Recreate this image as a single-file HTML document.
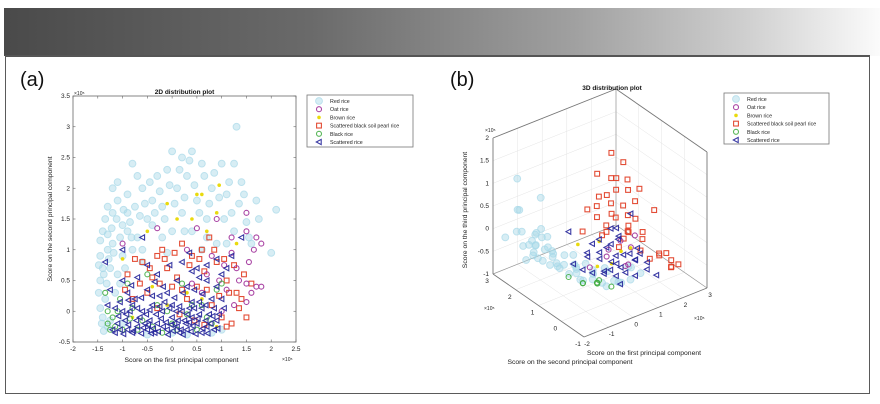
<!DOCTYPE html>
<html><head><meta charset="utf-8">
<style>
html,body{margin:0;padding:0;background:#fff;}
body{width:880px;height:404px;position:relative;overflow:hidden;font-family:"Liberation Sans",sans-serif;}
#hdr{position:absolute;left:4px;top:8px;width:876px;height:48px;background:linear-gradient(90deg,#4a4a4a 0%,#6a6a6a 35%,#a0a0a0 65%,#d0d0d0 85%,#fbfbfb 100%);}
#panel{position:absolute;left:5px;top:55px;width:865px;height:339px;border:1.5px solid #5a5a5a;border-top:2px solid #555;box-sizing:border-box;}
svg{position:absolute;left:0;top:0;}
</style></head><body>
<div id="hdr"></div>
<div id="panel"></div>
<svg id="chart" width="880" height="404" font-family="Liberation Sans, sans-serif"></svg>
<script>
// ---------- 2D data (units of 1e5) ----------
const cyan2 = [-1.4,1.3,-1.3,1.0,-1.45,0.5,-1.35,0.2,-1.2,1.6,-1.1,1.8,-0.9,1.9,-0.8,2.4,-0.6,2.0,-0.5,1.5,-0.3,2.2,-0.1,2.3,0.0,2.6,0.2,2.5,0.4,2.6,0.6,2.4,0.8,2.0,1.0,2.4,1.3,3.0,1.4,2.1,1.7,1.8,2.1,1.65,2.0,0.95,1.5,1.45,1.2,1.6,0.9,1.1,0.5,1.8,0.2,1.6,-0.2,1.2,-0.7,1.2,-1.0,1.4,-1.25,0.7,-1.4,-0.1,-1.3,-0.25,-1.0,0.9,-0.6,0.8,-1.15,0.3,-1.45,0.9,-0.4,1.8,0.1,2.0,0.7,1.5,-0.9,1.6,-1.2,2.0,-0.2,1.7,0.3,2.2,1.1,1.9,-1.35,1.5,-0.8,1.0,0.6,1.0,1.6,1.1,-1.45,1.15,-1.4,0.7,-1.3,1.25,-1.2,1.1,-1.45,0.05,-1.1,0.6,-0.9,1.3,-0.4,1.4,0.0,1.3,0.4,1.3,
 -1.48,0.3,-1.42,-0.2,-1.38,0.6,-1.32,0.45,-1.28,0.85,-1.22,1.35,-1.18,0.95,-1.12,1.5,-1.05,1.2,-0.98,1.65,-0.85,1.45,-0.75,1.7,-0.65,1.55,-0.55,1.75,-0.45,2.1,-0.35,1.6,-0.25,1.95,-0.15,1.5,-0.05,2.05,0.05,1.75,0.15,2.3,0.25,1.85,0.35,2.45,0.45,2.05,0.55,1.6,0.65,2.2,0.75,1.75,0.85,2.25,0.95,1.85,1.05,1.5,1.15,2.1,1.25,1.3,1.35,1.75,1.45,1.9,1.55,1.2,1.75,1.5,1.25,2.4,-1.38,-0.32,-1.25,-0.15,-1.48,0.75,-1.3,1.7,-1.1,2.1,-0.7,2.2,-0.95,0.7,-0.82,1.2,-1.05,0.45,-0.6,1.0,-0.1,0.95,0.25,1.3,0.7,1.2,1.1,1.1,0.0,-0.35,0.3,-0.38,-0.5,-0.38,0.8,-0.35,-1.0,-0.2,1.0,-0.3];
const blue2 = [-1.1,-0.2,-0.9,-0.3,-0.7,-0.25,-0.5,-0.3,-0.3,-0.2,-0.1,-0.3,0.1,-0.25,0.3,-0.3,0.5,-0.2,0.7,-0.25,0.9,-0.15,-1.0,0.0,-0.8,0.1,-0.6,0.0,-0.4,0.1,-0.2,0.0,0.0,0.1,0.2,0.0,0.4,0.15,0.6,0.05,0.8,0.2,-0.9,0.3,-0.5,0.35,-0.1,0.3,0.3,0.4,0.7,0.5,1.0,0.6,-1.3,0.1,-1.35,0.8,-1.0,1.0,-0.6,1.2,0.2,0.8,0.5,0.7,1.2,0.9,1.4,1.2,0.9,0.85,-0.3,0.6,-0.7,0.55,0.0,-0.1,-0.45,-0.15,0.15,-0.35,0.6,-0.35,-0.8,-0.35,0.4,-0.1,-0.25,0.25,-1.2,-0.3,1.0,0.2,0.85,-0.3,-0.95,-0.15,-0.65,-0.1,-0.35,-0.35,0.05,-0.2,0.25,-0.15,0.55,-0.05,-0.75,0.2,-0.15,0.15,0.35,0.05,-1.05,0.15,0.75,-0.05,-0.55,-0.2,
 -1.15,-0.35,-1.05,-0.3,-0.98,-0.37,-0.88,-0.22,-0.78,-0.32,-0.72,-0.15,-0.62,-0.36,-0.58,-0.27,-0.48,-0.22,-0.42,-0.36,-0.38,-0.28,-0.28,-0.33,-0.22,-0.12,-0.18,-0.25,-0.08,-0.38,-0.02,-0.22,0.02,-0.32,0.12,-0.15,0.18,-0.3,0.22,-0.38,0.28,-0.2,0.38,-0.33,0.42,-0.24,0.48,-0.37,0.52,-0.12,0.62,-0.28,0.68,-0.15,0.72,-0.36,0.78,-0.2,0.82,-0.08,0.92,-0.28,0.95,-0.05,-1.08,-0.08,-0.92,-0.05,-0.85,0.0,-0.7,0.05,-0.52,-0.05,-0.45,0.02,-0.32,-0.05,-0.25,0.08,-0.05,0.05,0.08,0.0,0.15,0.08,0.32,-0.05,0.45,0.05,0.55,0.15,0.68,0.1,0.85,0.05,-1.15,0.05,-0.88,0.18,-0.62,0.22,-0.4,0.25,-0.18,0.4,0.05,0.22,0.22,0.3,0.45,0.35,0.62,0.28,0.9,0.4,-1.0,0.5,-0.82,0.42,-0.35,0.48,0.1,0.5,0.55,0.55,0.4,0.65,-0.05,0.75,0.7,0.75,1.1,0.7,0.35,0.95,-0.5,0.75,-1.25,0.35,1.05,0.05,-0.12,-0.18,0.35,-0.18];
const red2 = [-0.9,0.6,-0.6,0.8,-0.3,0.9,-0.1,0.7,0.2,1.1,0.4,0.9,0.6,1.0,0.75,1.2,0.9,0.8,1.1,0.5,1.3,0.3,1.5,-0.1,1.6,0.45,1.4,0.2,0.5,0.4,0.0,0.4,-0.5,0.3,-0.8,0.2,0.3,0.2,0.8,0.1,1.2,-0.2,1.0,-0.1,-0.2,1.0,0.1,0.55,-0.4,0.55,0.65,0.65,1.25,0.75,
 -0.75,0.85,-0.45,0.7,-0.15,0.85,0.05,0.95,0.35,0.75,0.55,0.85,0.85,1.0,1.05,0.85,1.15,0.3,1.35,0.05,1.45,0.6,-0.65,0.45,-0.25,0.45,0.2,0.35,0.7,0.35,0.95,0.25,-0.95,0.35,0.45,-0.15,0.15,-0.05,-0.3,0.05,1.1,-0.25,0.65,-0.22];
const purple2 = [0.5,1.35,0.9,1.5,1.2,1.2,1.5,1.6,1.5,1.3,1.7,1.2,1.8,1.1,1.65,1.0,1.5,0.45,1.7,0.4,1.8,0.4,1.6,0.3,1.5,0.15,1.3,0.7,1.1,0.35,0.8,0.9,-0.3,1.35,0.3,1.0,-1.0,1.1,0.6,0.3,1.0,0.0,1.35,0.5,1.55,0.8,1.2,0.95,1.05,0.75,0.7,0.6,0.4,0.45,0.95,0.5,1.25,0.1];
const yellow2 = [-0.1,1.75,0.5,1.9,0.6,1.9,0.95,2.05,0.9,1.6,0.4,1.5,0.1,1.5,-0.5,1.3,-1.0,0.85,1.3,1.1,0.7,1.3,-0.4,0.4,0.3,0.3,-0.8,-0.1,0.6,0.2,-0.1,0.1,0.9,-0.25];
const green2 = [-1.3,-0.2,-1.2,-0.1,-1.1,0.0,-1.0,-0.3,-0.8,0.05,-0.6,-0.15,-0.3,0.1,0.0,-0.2,0.3,-0.05,0.6,0.1,0.9,0.35,-0.9,0.45,-0.5,0.6,0.2,0.45,-1.35,0.3,-0.2,-0.35,0.5,-0.3,1.0,0.45,-1.25,-0.3,0.7,-0.1,-1.15,-0.25,-1.05,0.2,-0.7,-0.3,-0.4,-0.25,-0.1,0.0,0.1,-0.3,0.4,0.1,0.8,-0.2,-1.3,0.0,-0.85,-0.12];
const xTicks2 = [-2,-1.5,-1,-0.5,0,0.5,1,1.5,2,2.5];
const yTicks2 = [-0.5,0,0.5,1,1.5,2,2.5,3,3.5];
// ---------- 3D data (x1, x2, x3) ----------
const cyan3 = [-1.5,2.5,0,-1.2,2.0,-0.2,-1.0,2.5,-0.4,-0.8,1.5,-0.5,-0.5,2.0,-0.6,-1.4,1.5,0.2,-1.0,3.0,0.2,-0.3,1.0,-0.8,0,1.5,-0.8,0.3,0.5,-0.9,0.6,0.3,-0.8,1.0,0.2,-0.8,-1.2,2.8,1.0,-0.8,2.2,0.7,-1.5,3.0,-0.3,-0.6,2.8,-0.5,-0.2,2.3,-0.7,0.2,1.8,-0.85,1.3,0.5,-0.7,0.8,1.0,-0.85,-1.3,2.3,-0.6,-0.9,1.8,0.0,-1.7,2.0,-0.1,-0.4,1.2,-0.3,-1.1,2.0,-0.5,-0.7,2.5,-0.2,-0.3,1.7,-0.5,0.1,1.2,-0.6,-1.3,2.6,0.4,
 -1.0,2.2,-0.3,-0.9,2.0,-0.6,-0.7,1.9,-0.7,-0.6,2.1,-0.4,-0.4,1.8,-0.8,-0.2,1.6,-0.9,0.0,1.2,-0.95,0.2,1.0,-0.9,0.4,0.8,-0.95,0.7,0.6,-0.9,0.9,0.5,-0.95,-1.2,2.1,-0.45,-1.1,1.7,-0.2,-0.8,1.7,-0.3,-0.5,1.5,-0.6,-0.1,1.4,-0.7,0.3,1.1,-0.75,0.6,0.9,-0.7,1.1,0.4,-0.6,1.5,0.3,-0.8,-0.6,2.4,-0.1,-1.3,1.9,0.1,-0.9,2.4,-0.55,-0.3,2.0,-0.85,0.1,1.6,-0.95,0.5,1.3,-0.95,-1.2,2.6,-0.1];
const red3 = [0.5,0.5,2.0,0.8,0.3,1.8,0.2,0.8,1.5,0.6,0.4,1.2,1.0,0.0,1.0,0.0,0.6,0.9,0.4,0.2,0.7,1.2,0.2,0.5,1.5,-0.3,0.8,-0.3,0.9,0.3,0.3,0.5,0.3,1.8,-0.2,-0.3,2.0,-0.5,-0.5,2.2,-0.3,-0.6,1.6,0.0,-0.4,1.0,0.5,0.0,0.7,0.0,0.4,-0.1,0.4,1.2,0.9,-0.3,1.4,1.4,0.1,0.2,0.3,0.3,1.0,0.7,0.2,0.9,1.9,-0.4,-0.2,0.1,0.7,0.6,
 0.4,0.4,1.5,0.7,0.5,1.4,0.9,0.2,1.2,0.5,0.7,1.0,0.8,0.1,0.7,0.2,0.4,0.5,0.6,0.6,0.6,1.1,0.4,0.3,1.3,0.0,0.1,1.7,-0.3,-0.2,2.1,-0.4,-0.4,2.3,-0.5,-0.5,1.5,0.3,-0.3,0.9,0.6,-0.2,0.4,0.8,0.1,-0.2,0.8,0.8,0.6,-0.1,1.6,1.2,0.5,0.1];
const blue3 = [0,0.5,0.2,0.5,0.3,-0.2,1.0,0.0,-0.3,0.3,0.8,-0.4,-0.3,0.7,-0.1,0.8,0.5,0.1,1.3,-0.2,-0.5,0.2,0.2,0.5,0.6,-0.2,0.0,-0.2,1.0,-0.6,1.5,-0.4,-0.6,0.9,0.7,-0.6,0.4,0.0,-0.7,1.1,0.3,0.6,-0.5,1.3,0.2,0.0,0.0,-0.3,0.4,0.6,-0.1,0.7,0.3,-0.5,0.2,0.5,-0.6,1.2,0.0,-0.2,
 0.1,0.9,-0.7,0.3,0.6,-0.6,0.6,0.4,-0.7,0.8,0.2,-0.6,1.1,0.1,-0.7,1.4,-0.1,-0.4,-0.1,0.9,-0.3,0.2,0.7,-0.2,0.5,0.5,-0.4,0.9,0.4,-0.3,1.2,0.2,-0.4,0.3,0.3,0.1,0.7,0.5,0.3,0.0,0.8,0.0,0.5,0.2,0.2,1.0,-0.1,0.0,-0.4,1.2,-0.5];
const purple3 = [0.2,0.3,0.0,0.7,0.1,-0.4,1.2,0.4,-0.2,-0.1,0.8,-0.5,0.9,-0.1,0.3,0.4,0.6,-0.3,1.0,0.3,-0.5,0.5,0.1,0.2];
const yellow3 = [0.1,0.6,0.1,0.6,0.6,-0.5,-0.4,1.0,0.0,1.0,0.2,-0.1,0.3,0.9,-0.6,0.8,0.4,-0.2];
const green3 = [-0.2,1.0,-0.9,0.2,0.8,-0.9,0.5,0.5,-0.95,-0.5,1.3,-0.8,0.0,0.5,-0.7,-0.1,1.1,-0.95,0.3,0.9,-0.98,0.1,0.7,-0.85];
const x1Ticks = [-2,-1,0,1,2,3];
const x2Ticks = [-1,0,1,2,3];
const x3Ticks = [-1,-0.5,0,0.5,1,1.5,2];
const legendLabels = ["Red rice","Oat rice","Brown rice","Scattered black soil pearl rice","Black rice","Scattered rice"];

const NS="http://www.w3.org/2000/svg";
const svg=document.getElementById('chart');
function mk(tag,attrs,parent,text){const e=document.createElementNS(NS,tag);for(const k in attrs)e.setAttribute(k,attrs[k]);if(text!==undefined)e.textContent=text;(parent||svg).appendChild(e);return e;}

const styles=[
 {c:'#a6d8e8',shape:'fcircle',op:0.75},
 {c:'#a0309a',shape:'circle',op:0.9},
 {c:'#e8d800',shape:'dot',op:0.95},
 {c:'#e03a20',shape:'square',op:0.9},
 {c:'#3caa3c',shape:'circle',op:0.85},
 {c:'#25259a',shape:'tri',op:0.9}
];
function marker(g,x,y,s,name){
  let e;
  if(s.shape==='fcircle') e=mk('circle',{cx:x,cy:y,r:3.4,fill:s.c,stroke:s.c,'fill-opacity':0.6,opacity:s.op},g);
  else if(s.shape==='circle') e=mk('circle',{cx:x,cy:y,r:2.5,fill:'none',stroke:s.c,'stroke-width':1.1,opacity:s.op},g);
  else if(s.shape==='dot') e=mk('circle',{cx:x,cy:y,r:1.8,fill:s.c,opacity:s.op},g);
  else if(s.shape==='square') e=mk('rect',{x:x-2.4,y:y-2.4,width:4.8,height:4.8,fill:'none',stroke:s.c,'stroke-width':1.1,opacity:s.op},g);
  else e=mk('polygon',{points:`${x-2.7},${y} ${x+2.2},${y-2.6} ${x+2.2},${y+2.6}`,fill:'none',stroke:s.c,'stroke-width':1.1,opacity:s.op},g);
  
  
}

// ---------- 2D plot ----------
const L=73,R=296,T=96,B=342;
const sx=v=>L+(v+2)/4.5*(R-L);
const sy=v=>B-(v+0.5)/4*(B-T);
const g2=mk('g',{});  
mk('text',{x:20,y:86,'font-size':20,fill:'#111'},g2,'(a)');
mk('rect',{x:L,y:T,width:R-L,height:B-T,fill:'#fff',stroke:'#666','stroke-width':0.8},g2);
const series2=[cyan2,purple2,yellow2,red2,green2,blue2];
const order2=[0,3,1,2,4,5];
order2.forEach(i=>{const arr=series2[i];for(let k=0;k<arr.length;k+=2)marker(g2,sx(arr[k]),sy(arr[k+1]),styles[i],'point-2d');});
xTicks2.forEach(t=>{const x=sx(t);mk('line',{x1:x,y1:B,x2:x,y2:B-2.5,stroke:'#666','stroke-width':0.6},g2);mk('line',{x1:x,y1:T,x2:x,y2:T+2.5,stroke:'#666','stroke-width':0.6},g2);const e=mk('text',{x:x,y:B+9,'font-size':6.5,'text-anchor':'middle',fill:'#222'},g2,String(t));});
yTicks2.forEach(t=>{const y=sy(t);mk('line',{x1:L,y1:y,x2:L+2.5,y2:y,stroke:'#666','stroke-width':0.6},g2);mk('line',{x1:R,y1:y,x2:R-2.5,y2:y,stroke:'#666','stroke-width':0.6},g2);const e=mk('text',{x:L-3,y:y+2,'font-size':6.5,'text-anchor':'end',fill:'#222'},g2,String(t));});
mk('text',{x:(L+R)/2,y:94,'font-size':6.5,'font-weight':'bold','text-anchor':'middle',fill:'#111'},g2,'2D distribution plot');
mk('text',{x:(L+R)/2-3,y:362,'font-size':6.8,'text-anchor':'middle',fill:'#222'},g2,'Score on the first principal component');
mk('text',{x:52,y:(T+B)/2,'font-size':6.8,'text-anchor':'middle',fill:'#222',transform:`rotate(-90 52 ${(T+B)/2})`},g2,'Score on the second principal component');
mk('text',{x:74,y:95,'font-size':5,fill:'#222'},g2,'×10⁵');
mk('text',{x:282,y:361,'font-size':5,fill:'#222'},g2,'×10⁵');

function legend(x,y,w,h,name){
  const g=mk('g',{});  
  mk('rect',{x:x,y:y,width:w,height:h,fill:'#fff',stroke:'#777','stroke-width':0.8},g);
  legendLabels.forEach((lab,i)=>{const yy=y+6+i*8.2;marker(g,x+12,yy,styles[i],'legend-marker');const e=mk('text',{x:x+23,y:yy+2,'font-size':5.3,fill:'#222'},g,lab);});
}
legend(307,95,106,52,'legend-2d');

// ---------- 3D plot ----------
const px=(a,b,c)=>584+(a+2)/5*123-(b+1)/4*91;
const py=(a,b,c)=>337-(a+2)/5*49-(b+1)/4*63-(c+1)/3*136;
const g3=mk('g',{});  
mk('text',{x:450,y:86,'font-size':20,fill:'#111'},g3,'(b)');
function L3(a,b,c,d,e,f,col,w){mk('line',{x1:px(a,b,c),y1:py(a,b,c),x2:px(d,e,f),y2:py(d,e,f),stroke:col,'stroke-width':w},g3);}
x1Ticks.forEach(t=>{L3(t,-1,-1,t,3,-1,'#e4e4e4',0.5);L3(t,3,-1,t,3,2,'#e4e4e4',0.5);});
x2Ticks.forEach(t=>{L3(-2,t,-1,3,t,-1,'#e4e4e4',0.5);L3(3,t,-1,3,t,2,'#e4e4e4',0.5);});
x3Ticks.forEach(t=>{L3(-2,3,t,3,3,t,'#e4e4e4',0.5);L3(3,-1,t,3,3,t,'#e4e4e4',0.5);});
L3(-2,3,2,3,3,2,'#777',0.9);L3(3,-1,2,3,3,2,'#777',0.9);L3(3,3,-1,3,3,2,'#999',0.7);
L3(-2,3,-1,3,3,-1,'#999',0.7);L3(3,-1,-1,3,3,-1,'#999',0.7);
L3(-2,-1,-1,3,-1,-1,'#777',0.9);L3(-2,-1,-1,-2,3,-1,'#777',0.9);
L3(-2,3,-1,-2,3,2,'#777',0.9);L3(3,-1,-1,3,-1,2,'#777',0.9);
const series3=[cyan3,purple3,yellow3,red3,green3,blue3];
order2.forEach(i=>{const arr=series3[i];for(let k=0;k<arr.length;k+=3)marker(g3,px(arr[k],arr[k+1],arr[k+2]),py(arr[k],arr[k+1],arr[k+2]),styles[i],'point-3d');});
x1Ticks.forEach(t=>{const e=mk('text',{x:px(t,-1,-1)+3,y:py(t,-1,-1)+9,'font-size':6.5,'text-anchor':'middle',fill:'#222'},g3,String(t));});
x2Ticks.forEach(t=>{const e=mk('text',{x:px(-2,t,-1)-6,y:py(-2,t,-1)+9,'font-size':6.5,'text-anchor':'middle',fill:'#222'},g3,String(t));});
x3Ticks.forEach(t=>{const e=mk('text',{x:px(-2,3,t)-4,y:py(-2,3,t)+2,'font-size':6.5,'text-anchor':'end',fill:'#222'},g3,String(t));});
mk('text',{x:612,y:90,'font-size':6.5,'font-weight':'bold','text-anchor':'middle',fill:'#111'},g3,'3D distribution plot');
mk('text',{x:644,y:355,'font-size':6.8,'text-anchor':'middle',fill:'#222'},g3,'Score on the first principal component');
mk('text',{x:570,y:364,'font-size':6.8,'text-anchor':'middle',fill:'#222'},g3,'Score on the second principal component');
mk('text',{x:467,y:210,'font-size':6.8,'text-anchor':'middle',fill:'#222',transform:'rotate(-90 467 210)'},g3,'Score on the third principal component');
mk('text',{x:485,y:132,'font-size':5,fill:'#222'},g3,'×10⁵');
mk('text',{x:484,y:310,'font-size':5,fill:'#222'},g3,'×10⁵');
mk('text',{x:694,y:320,'font-size':5,fill:'#222'},g3,'×10⁵');
legend(724,93,105,51,'legend-3d');
</script>
</body></html>
